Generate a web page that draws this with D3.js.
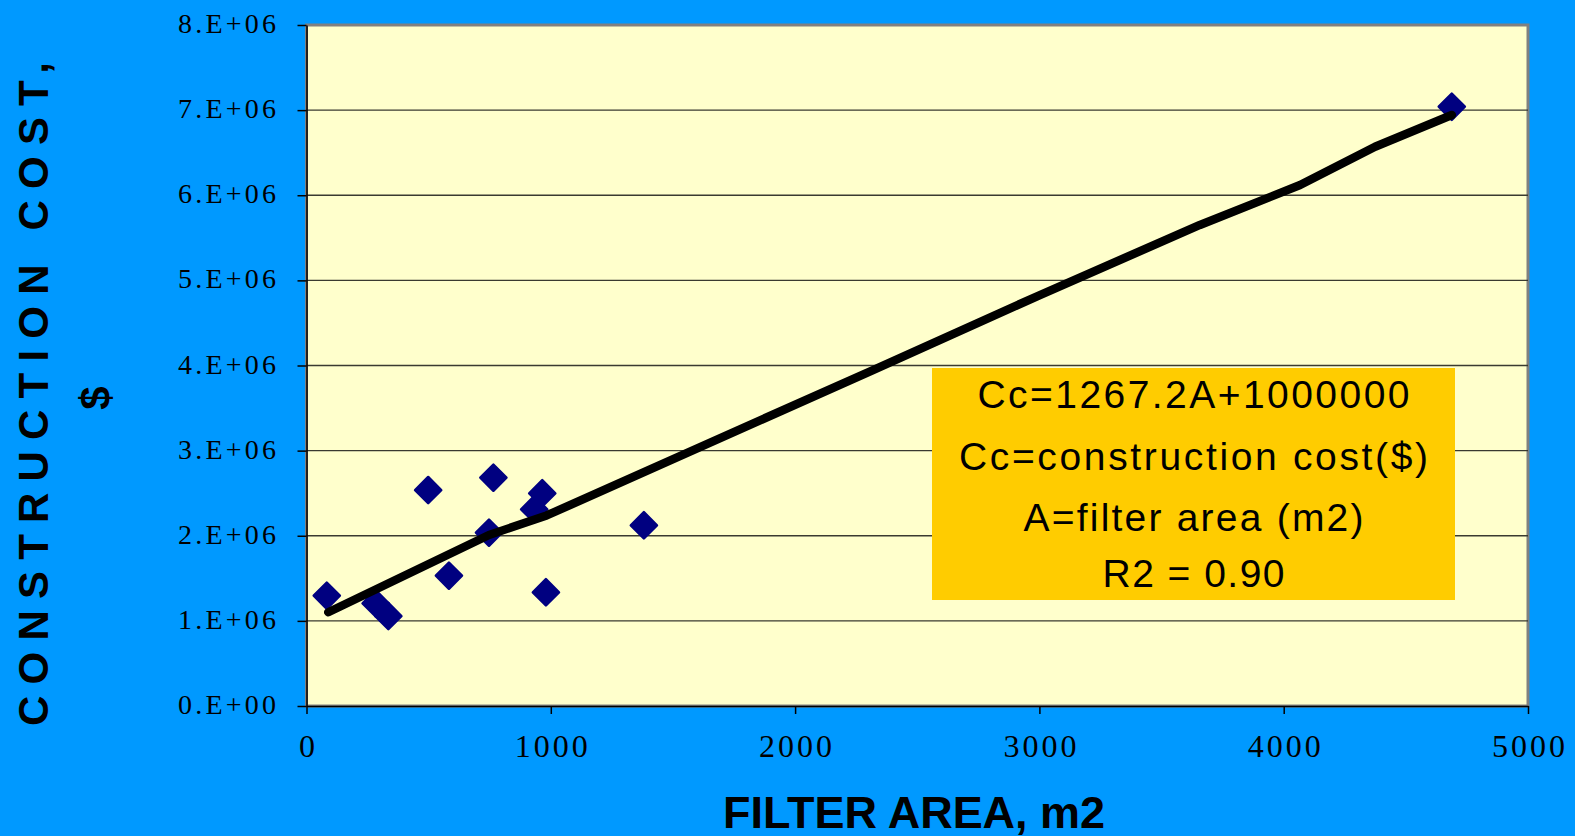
<!DOCTYPE html>
<html>
<head>
<meta charset="utf-8">
<script src="https://cdn.jsdelivr.net/npm/d3@7"></script>
<style>
  html, body { margin: 0; padding: 0; background: #0099FF; }
  svg { display: block; }
</style>
</head>
<body>
<svg id="chart" width="1575" height="836"></svg>
<script>
// ---- data ----
const areaX = [83, 283, 335, 498, 583, 747, 765, 932, 965, 980, 1381, 4688];
const costY = [1.296e6, 1.206e6, 1.057e6, 2.537e6, 1.531e6, 2.036e6, 2.682e6, 2.311e6, 2.499e6, 1.336e6, 2.123e6, 7.04e6];
const trendX = [89, 747, 983, 2319, 3002, 3657, 4067, 4374, 4688];
const trendY = [1.101e6, 2.009e6, 2.238e6, 3.947e6, 4.828e6, 5.651e6, 6.120e6, 6.570e6, 6.943e6];
const xTicks = [0, 1000, 2000, 3000, 4000, 5000];
const yTicks = [0, 1e6, 2e6, 3e6, 4e6, 5e6, 6e6, 7e6, 8e6];
const legendLines = ["Cc=1267.2A+1000000", "Cc=construction cost($)", "A=filter area (m2)", "R2 = 0.90"];
const xTitle = "FILTER AREA, m2";
const yTitle = ["CONSTRUCTION COST,", "$"];

// ---- layout ----
const W = 1575, H = 836;
const plot = { left: 306.5, top: 25, right: 1528, bottom: 706 };
const svg = d3.select("#chart");

svg.append("rect").attr("x", 0).attr("y", 0).attr("width", W).attr("height", H).attr("fill", "#0099FF");

const x = d3.scaleLinear().domain([0, 5000]).range([plot.left, plot.right]);
const y = d3.scaleLinear().domain([0, 8e6]).range([plot.bottom, plot.top]);

// plot area
svg.append("rect")
  .attr("x", plot.left).attr("y", plot.top)
  .attr("width", plot.right - plot.left).attr("height", plot.bottom - plot.top)
  .attr("fill", "#FFFFCC").attr("stroke", "#808080").attr("stroke-width", 3);

// gridlines
svg.append("g").selectAll("line")
  .data(yTicks.filter(d => d > 0 && d < 8e6))
  .join("line")
  .attr("x1", plot.left).attr("x2", plot.right)
  .attr("y1", d => y(d)).attr("y2", d => y(d))
  .attr("stroke", "#3a3a30").attr("stroke-width", 1.4);

// tick format like "8.E+06"
function sci(d) {
  if (d === 0) return "0.E+00";
  const e = Math.floor(Math.log10(d));
  const m = Math.round(d / Math.pow(10, e));
  return m + ".E+" + String(e).padStart(2, "0");
}

// y axis
const yAxis = svg.append("g")
  .attr("transform", `translate(${plot.left},0)`)
  .call(d3.axisLeft(y).tickValues(yTicks).tickFormat(sci).tickSize(9).tickSizeOuter(0).tickPadding(21.5));
yAxis.select(".domain").attr("stroke", "#000").attr("stroke-width", 1.5);
yAxis.selectAll(".tick line").attr("stroke", "#000").attr("stroke-width", 1.5);
yAxis.selectAll(".tick text")
  .attr("font-family", "'Liberation Serif', 'Times New Roman', serif")
  .attr("font-size", 28)
  .attr("fill", "#000")
  .attr("dy", 7.5)
  .attr("textLength", 98)
  .attr("lengthAdjust", "spacing");

// x axis
const xAxis = svg.append("g")
  .attr("transform", `translate(0,${plot.bottom})`)
  .call(d3.axisBottom(x).tickValues(xTicks).tickFormat(d3.format("d")).tickSize(8).tickSizeOuter(0));
xAxis.select(".domain").attr("stroke", "#000").attr("stroke-width", 1.5);
xAxis.selectAll(".tick line").attr("stroke", "#000").attr("stroke-width", 1.5);
xAxis.selectAll(".tick text")
  .attr("font-family", "'Liberation Serif', 'Times New Roman', serif")
  .attr("font-size", 32)
  .attr("fill", "#000")
  .attr("y", 51).attr("dy", 0)
  .attr("dx", 1.5)
  .style("letter-spacing", "3px");

// data points (navy diamonds)
const diamond = d3.symbol().type(d3.symbolSquare).size(18.5 * 18.5);
svg.append("g").selectAll("path")
  .data(areaX.map((a, i) => [a, costY[i]]))
  .join("path")
  .attr("d", diamond)
  .attr("transform", d => `translate(${x(d[0])},${y(d[1])}) rotate(45)`)
  .attr("fill", "#000080")
  .attr("stroke", "#000080").attr("stroke-width", 2.5).attr("stroke-linejoin", "round");

// trend line
const line = d3.line().x(d => x(d[0])).y(d => y(d[1]));
svg.append("path")
  .datum(trendX.map((a, i) => [a, trendY[i]]))
  .attr("d", line)
  .attr("fill", "none").attr("stroke", "#000").attr("stroke-width", 8.5)
  .attr("stroke-linecap", "round").attr("stroke-linejoin", "round");

// equation box
const box = { x0: 932, y0: 368, x1: 1455, y1: 600 };
svg.append("rect")
  .attr("x", box.x0).attr("y", box.y0)
  .attr("width", box.x1 - box.x0).attr("height", box.y1 - box.y0)
  .attr("fill", "#FFCC00");
const legBase = [408, 469.5, 531, 587];
const legLen = [432, 469, 340, 182];
svg.append("g").selectAll("text")
  .data(legendLines)
  .join("text")
  .attr("x", (box.x0 + box.x1) / 2)
  .attr("y", (d, i) => legBase[i])
  .attr("text-anchor", "middle")
  .attr("font-family", "'Liberation Sans', Arial, sans-serif")
  .attr("font-size", 39)
  .attr("fill", "#000")
  .attr("textLength", (d, i) => legLen[i])
  .attr("lengthAdjust", "spacing")
  .text(d => d);

// axis titles
svg.append("text")
  .attr("x", 914).attr("y", 828)
  .attr("text-anchor", "middle")
  .attr("font-family", "'Liberation Sans', Arial, sans-serif")
  .attr("font-weight", "bold")
  .attr("font-size", 44)
  .attr("fill", "#000")
  .attr("textLength", 382).attr("lengthAdjust", "spacingAndGlyphs")
  .text(xTitle);

svg.append("text")
  .attr("transform", "translate(48,394) rotate(-90)")
  .attr("text-anchor", "middle")
  .attr("font-family", "'Liberation Sans', Arial, sans-serif")
  .attr("font-weight", "bold")
  .attr("font-size", 42)
  .attr("fill", "#000")
  .attr("textLength", 664).attr("lengthAdjust", "spacing")
  .text(yTitle[0]);

svg.append("text")
  .attr("transform", "translate(110,398) rotate(-90)")
  .attr("text-anchor", "middle")
  .attr("font-family", "'Liberation Sans', Arial, sans-serif")
  .attr("font-weight", "bold")
  .attr("font-size", 42)
  .attr("fill", "#000")
  .text(yTitle[1]);
</script>
</body>
</html>
